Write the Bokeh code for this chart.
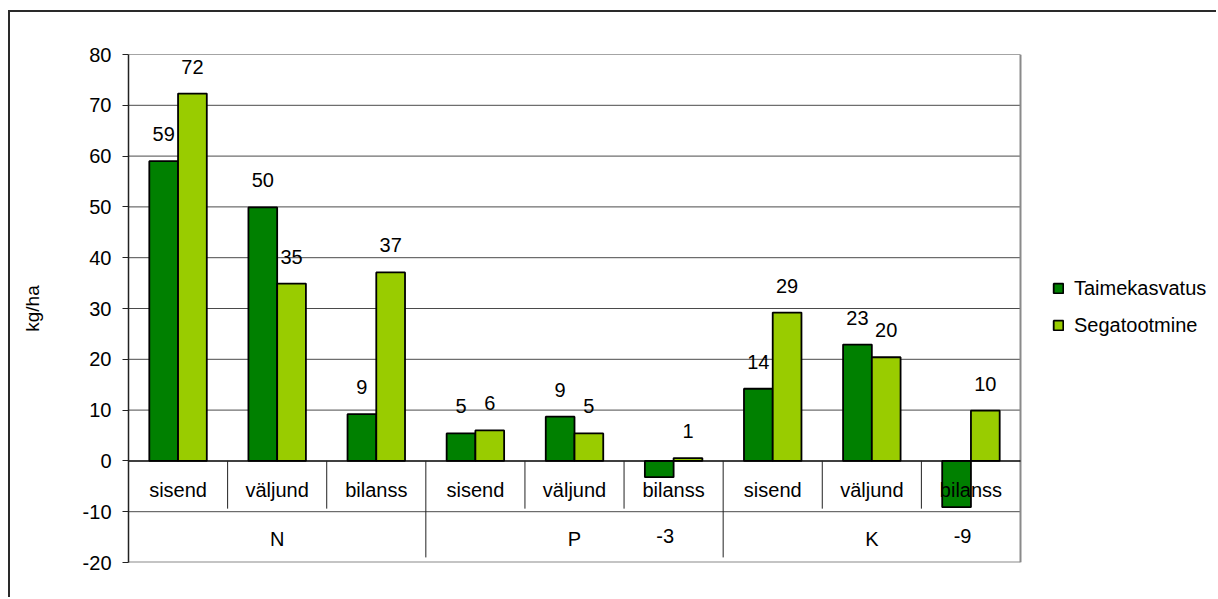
from bokeh.plotting import figure
from bokeh.models import Range1d, FixedTicker, PrintfTickFormatter
from bokeh.core.properties import value
from bokeh.embed import file_html
from bokeh.resources import INLINE

# ---- data ----
groups = ["N", "P", "K"]
subcats = ["sisend", "väljund", "bilanss"]
series = ["Taimekasvatus", "Segatootmine"]
taimekasvatus = [59.0, 49.9, 9.2, 5.4, 8.7, -3.2, 14.2, 22.9, -9.1]
segatootmine = [72.3, 34.9, 37.1, 6.0, 5.4, 0.55, 29.2, 20.4, 9.9]
y_ticks = [-20, -10, 0, 10, 20, 30, 40, 50, 60, 70, 80]

FONT = "Liberation Sans"
FS = "20px"
DARK = "#008000"
LIGHT = "#99CC00"

# page geometry (pixels)
ox, oy = 10, 12
W, H = 1218 - ox, 599 - oy
plot_left, plot_right, plot_top, plot_bottom = 128, 1020, 54, 562
frame_right = 1216

cats = [(g, s) for g in groups for s in subcats]
n = len(cats)
centers = [i + 0.5 for i in range(n)]
bw = 0.29
off = 0.145
x_end = n * (frame_right - plot_left) / (plot_right - plot_left)

p = figure(width=W, height=H, output_backend="svg", toolbar_location=None,
           x_range=Range1d(0, x_end), y_range=Range1d(y_ticks[0], y_ticks[-1]),
           min_border_left=plot_left - ox, min_border_right=W - (frame_right - ox),
           min_border_top=plot_top - oy, min_border_bottom=H - (plot_bottom - oy))
p.margin = (oy - 2, 0, 0, ox - 2)
p.styles = {"border-left": "2px solid #2a2a2a", "border-top": "2px solid #2a2a2a",
            "border-right": "none", "border-bottom": "none", "box-shadow": "none",
            "outline": "none"}
p.background_fill_color = "white"
p.border_fill_color = "white"
p.outline_line_color = None

p.xaxis.visible = False
p.xgrid.visible = False
p.ygrid.visible = False
p.yaxis.ticker = FixedTicker(ticks=y_ticks)
p.yaxis.formatter = PrintfTickFormatter(format="%d")
p.yaxis.minor_tick_line_color = None
p.yaxis.major_tick_out = 6
p.yaxis.major_tick_in = 0
p.yaxis.axis_line_color = "#222222"
p.yaxis.axis_line_width = 1.5
p.yaxis.major_tick_line_color = "#222222"
p.yaxis.major_label_standoff = 11
p.yaxis.major_label_text_font = FONT
p.yaxis.major_label_text_font_size = FS
p.yaxis.major_label_text_color = "black"
p.yaxis.axis_label = "kg/ha"
p.yaxis.axis_label_text_font = FONT
p.yaxis.axis_label_text_font_size = "19px"
p.yaxis.axis_label_text_font_style = "normal"
p.yaxis.axis_label_text_color = "black"
p.yaxis.axis_label_standoff = 37

# gridlines and plot-area border (limited to the category span)
grid_y = [t for t in y_ticks if t not in (y_ticks[0], 0)]
p.segment(x0=[0] * len(grid_y), x1=[n] * len(grid_y), y0=grid_y, y1=grid_y,
          line_color="#4a4a4a", line_width=1)
p.segment(x0=[0, n], x1=[n, n], y0=[y_ticks[0], y_ticks[0]], y1=[y_ticks[0], y_ticks[-1]],
          line_color="#8a8a8a", line_width=2)

# bars
p.vbar(x=[c - off for c in centers], top=taimekasvatus, bottom=0, width=bw,
       fill_color=DARK, line_color="black", line_width=1.8, legend_label=series[0])
p.vbar(x=[c + off for c in centers], top=segatootmine, bottom=0, width=bw,
       fill_color=LIGHT, line_color="black", line_width=1.8, legend_label=series[1])

# zero line
p.segment(x0=[0], x1=[n], y0=[0], y1=[0], line_color="black", line_width=1.5)

# category separators
inner = [i for i in range(1, n) if i % 3 != 0]
outer = [i for i in range(1, n) if i % 3 == 0]
p.segment(x0=inner, x1=inner, y0=[0] * len(inner), y1=[-9.4] * len(inner),
          line_color="#222222", line_width=1)
p.segment(x0=outer, x1=outer, y0=[0] * len(outer), y1=[-19] * len(outer),
          line_color="#222222", line_width=1)

# category labels
p.text(x=centers, y=[-5.8] * n, text=[c[1] for c in cats],
       text_font=value(FONT), text_font_size=FS, text_align="center",
       text_baseline="middle", text_color="black")
p.text(x=[3 * g + 1.5 for g in range(len(groups))], y=[-15.4] * len(groups), text=groups,
       text_font=value(FONT), text_font_size=FS, text_align="center",
       text_baseline="middle", text_color="black")

# data labels
for vals, sign in ((taimekasvatus, -1), (segatootmine, 1)):
    xs_pos, ys_pos, tx_pos, xs_neg, tx_neg = [], [], [], [], []
    for c, v in zip(centers, vals):
        x = c + sign * off
        if v >= 0:
            xs_pos.append(x); ys_pos.append(v); tx_pos.append(f"{v:.0f}")
        else:
            xs_neg.append(x); tx_neg.append(f"{v:.0f}")
    p.text(x=xs_pos, y=ys_pos, text=tx_pos, text_font=value(FONT), text_font_size=FS,
           text_align="center", text_baseline="middle", y_offset=-27, text_color="black")
    if xs_neg:
        p.text(x=xs_neg, y=[-14.7] * len(xs_neg), text=tx_neg, text_font=value(FONT),
               text_font_size=FS, text_align="center", text_baseline="middle",
               x_offset=6, text_color="black")

# legend
lg = p.legend[0]
lg.location = (1052 - plot_left, 225)
lg.padding = 0
lg.margin = 0
lg.spacing = 13
lg.glyph_width = 12
lg.glyph_height = 12
lg.label_height = 24
lg.label_standoff = 10
lg.label_text_font = FONT
lg.label_text_font_size = FS
lg.label_text_color = "black"
lg.border_line_alpha = 0
lg.background_fill_alpha = 0

open("out.html", "w").write(file_html(p, INLINE))
